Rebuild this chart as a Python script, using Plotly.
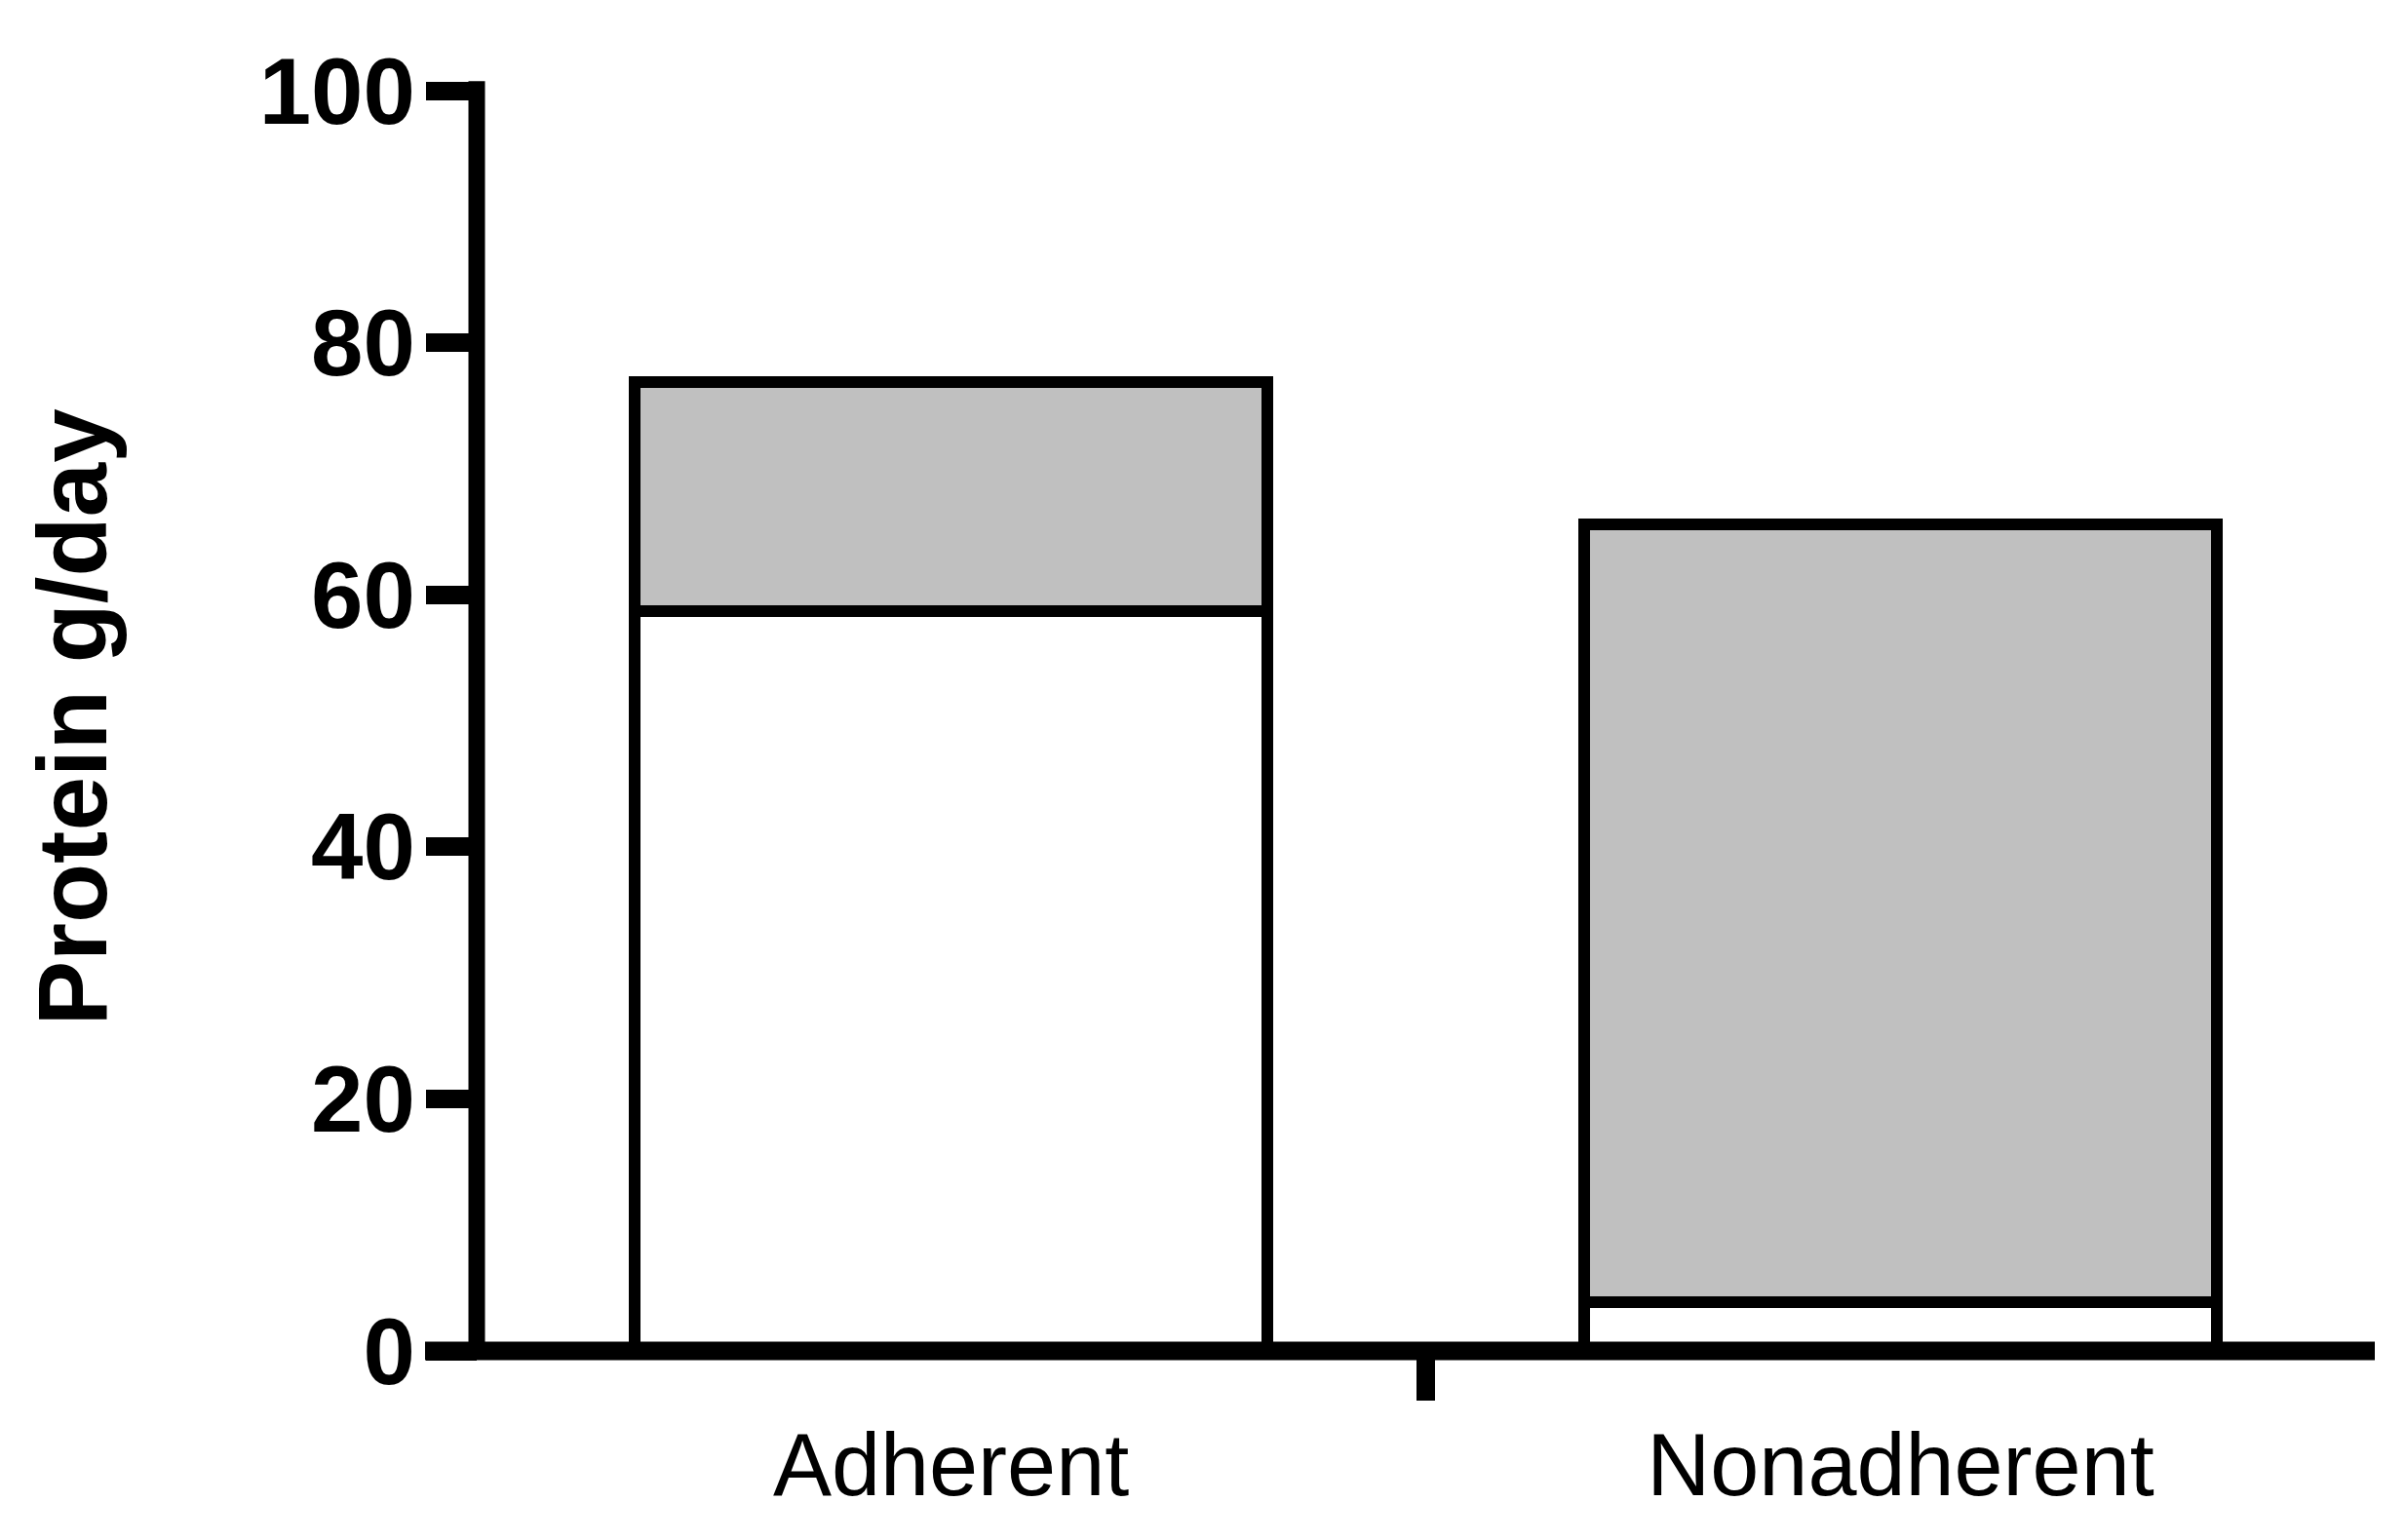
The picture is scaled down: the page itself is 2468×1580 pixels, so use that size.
import plotly.graph_objects as go

groups = ["Adherent", "Nonadherent"]
lower_part = [58.7, 3.9]     # white segment, g/day
upper_part = [18.2, 61.7]    # grey segment, g/day
y_ticks = [0, 20, 40, 60, 80, 100]

font = "Liberation Sans, Arial, sans-serif"
y_axis_pos = 0.0265  # paper x where the y axis sits

fig = go.Figure()
fig.add_trace(go.Bar(
    x=[0, 1], y=lower_part, width=0.666,
    marker=dict(color="white", line=dict(color="black", width=12)),
    showlegend=False,
))
fig.add_trace(go.Bar(
    x=[0, 1], y=upper_part, width=0.666,
    marker=dict(color="#c0c0c0", line=dict(color="black", width=12)),
    showlegend=False,
))

# axis lines in paper coords so they are centred on the axis and not clipped
fig.add_shape(type="line", xref="paper", yref="paper", x0=0, x1=1, y0=0, y1=0,
              line=dict(color="black", width=19))
fig.add_shape(type="line", xref="paper", yref="paper", x0=y_axis_pos, x1=y_axis_pos,
              y0=0, y1=1.0075, line=dict(color="black", width=17))

fig.add_annotation(text="<b>Protein g/day</b>", textangle=-90,
                   xref="paper", yref="paper", x=-0.181, y=0.503,
                   xanchor="center", yanchor="middle", showarrow=False,
                   font=dict(family=font, size=100, color="black"))

fig.update_layout(
    width=2468, height=1580,
    margin=dict(l=428, r=40, t=85, b=202, autoexpand=False),
    barmode="stack",
    plot_bgcolor="white", paper_bgcolor="white",
    xaxis=dict(
        range=[-0.554, 1.4995], automargin=False,
        tickvals=[0, 1], ticktext=groups,
        ticks="", ticklabelstandoff=57,
        tickfont=dict(family=font, size=90, color="black"),
        showline=False, showgrid=False, zeroline=False,
        minor=dict(tickvals=[0.5], ticks="outside", ticklen=50,
                   tickwidth=19, tickcolor="black", showgrid=False),
    ),
    yaxis=dict(
        range=[0, 100], tickvals=y_ticks, automargin=False,
        anchor="free", position=y_axis_pos,
        ticks="outside", ticklen=52, tickwidth=19, tickcolor="black",
        ticklabelstandoff=-8,
        tickfont=dict(family=font, size=96, color="black", weight="bold"),
        showline=False, showgrid=False, zeroline=False,
    ),
)

fig.write_html("out.html")
